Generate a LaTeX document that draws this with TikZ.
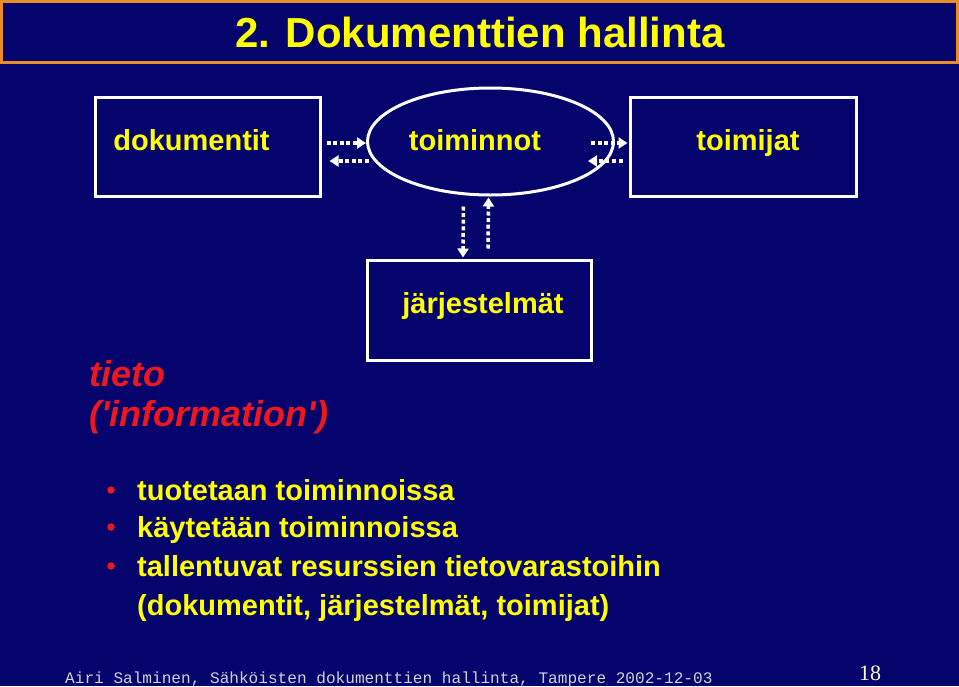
\documentclass[tikz,border=0pt]{standalone}
\usepackage{fontspec}
\setmainfont{Liberation Sans}
\newfontfamily\monofont{Liberation Mono}
\newfontfamily\numfont{Liberation Serif}
\usetikzlibrary{shapes.geometric,arrows.meta}
\definecolor{navy}{RGB}{4,4,108}
\definecolor{ttl}{RGB}{232,140,40}
\definecolor{ylw}{RGB}{255,255,0}
\definecolor{rd}{RGB}{236,24,30}
\definecolor{foot}{RGB}{210,210,215}
\definecolor{cream}{RGB}{255,250,200}
\tikzset{
  shapebox/.style={draw=white,line width=3pt,minimum width=#1,minimum height=99pt,inner sep=0pt},
  lbl/.style={text=ylw,font=\fontsize{29}{34}\selectfont\bfseries,anchor=base,inner sep=0pt},
  redtxt/.style={text=rd,font=\fontsize{36}{42}\selectfont\bfseries\itshape,anchor=base west,inner sep=0pt},
  bultxt/.style={text=ylw,font=\fontsize{29}{34}\selectfont\bfseries,anchor=base west,inner sep=0pt},
  bullet/.style={circle,fill=rd,minimum size=7.5pt,inner sep=0pt},
  darr/.style={draw=white,line width=3.5pt,dash pattern=on 4pt off 2.6pt,
    -{Triangle[length=9pt,width=11pt,fill=white]}}
}
\begin{document}
\begin{tikzpicture}[x=1pt,y=-1pt]
\useasboundingbox (0,0) rectangle (959,686);
\fill[navy] (0,0) rectangle (959,686);
% title bar
\node[draw=ttl,line width=3pt,minimum width=956pt,minimum height=61pt,inner sep=0pt] (bar) at (479.5,32) {};
\node[text=ylw,font=\fontsize{42}{50}\selectfont\bfseries,anchor=base,inner sep=0pt] (title) at (480,47) {2. Dokumenttien hallinta};
% shapes
\node[shapebox=225pt] (dok) at (207.5,146.5) {};
\node[draw=white,line width=3pt,ellipse,minimum width=246pt,minimum height=107pt,inner sep=0pt] (ell) at (490.5,141.5) {};
\node[shapebox=226pt] (toim) at (743,146.5) {};
\node[shapebox=224pt,minimum height=100pt] (jarj) at (479,310) {};
% labels
\node[lbl] (dokt) at (191.5,150) {dokumentit};
\node[lbl] (ellt) at (475,150) {toiminnot};
\node[lbl] (toimt) at (748,150) {toimijat};
\node[lbl] (jarjt) at (483,313) {järjestelmät};
% arrows
\draw[darr] ([shift={(5,-3.5)}]dok.east) -- ([shift={(0,1.5)}]ell.west);
\draw[darr] ([shift={(3,19.5)}]ell.west) -- ([shift={(8,14.5)}]dok.east);
\draw[darr] ([shift={(-24,1.5)}]ell.east) -- ([shift={(-1,-3.5)}]toim.west);
\draw[darr] ([shift={(-6,14.5)}]toim.west) -- ([shift={(-27,19.5)}]ell.east);
\draw[darr] ([shift={(-27,10)}]ell.south) -- ([shift={(-16,-1)}]jarj.north);
\draw[darr] ([shift={(9,-10)}]jarj.north) -- ([shift={(-2,1)}]ell.south);
% red text
\node[redtxt] (tieto) at (89,386) {tieto};
\node[redtxt] (info) at (89,426) {(\textquotesingle information\textquotesingle)};
% bullets
\node[bullet] (b1) at (111,490) {};
\node[bullet] (b2) at (111,527) {};
\node[bullet] (b3) at (111,566) {};
\node[bultxt] (t1) at (137,500) {tuotetaan toiminnoissa};
\node[bultxt] (t2) at (137,537) {käytetään toiminnoissa};
\node[bultxt] (t3) at (137,576) {tallentuvat resurssien tietovarastoihin};
\node[bultxt] (t4) at (137,615) {(dokumentit, järjestelmät, toimijat)};
% footer
\node[text=foot,font=\fontsize{16.1}{18}\monofont,anchor=base west,inner sep=0pt] (footer) at (65,683) {Airi Salminen, Sähköisten dokumenttien hallinta, Tampere 2002-12-03};
\node[text=cream,font=\fontsize{22}{24}\numfont,anchor=base west,inner sep=0pt] (pg) at (859,680) {18};
\end{tikzpicture}
\end{document}
